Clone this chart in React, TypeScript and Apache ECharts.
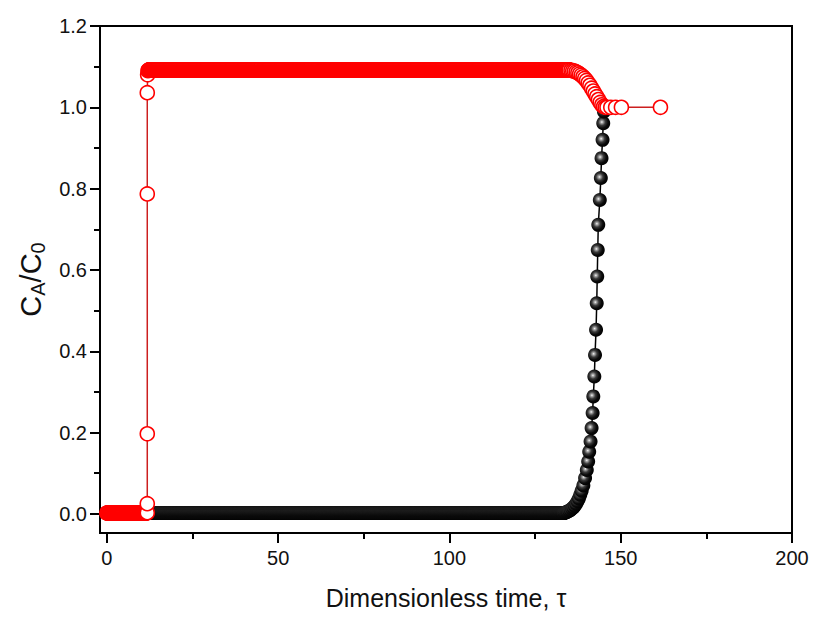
import React, { useEffect, useRef } from "react";
import * as echarts from "echarts";

// ---- data ----
// Solver output interval on the flat stretches (tau units)
const PLATEAU_STEP = 0.1;

// Flat runs: [tauFrom, tauTo, C/C0]
const redRunLow = [0, 11.6, 0.002];
const redRunHigh = [12.2, 135, 1.092];
const blackRunLow = [12.0, 133.4, 0.002];

// Red (hollow circles): breakthrough jump at tau ~ 11.8
const redJump = [
  [11.8, 0.003], [11.8, 0.025], [11.8, 0.197], [11.8, 0.787],
  [11.8, 1.036], [11.9, 1.08], [12.0, 1.09],
];
// Red: descent from overshoot to 1.0
const redDescent = [
  [135.5, 1.091], [136, 1.09], [136.5, 1.089], [137, 1.087], [137.5, 1.085],
  [138, 1.082], [138.5, 1.079], [139, 1.075], [139.5, 1.071], [140, 1.066],
  [140.5, 1.06], [141, 1.054], [141.5, 1.047], [142, 1.04], [142.5, 1.033],
  [143, 1.026], [143.5, 1.019], [144, 1.012], [144.5, 1.006], [145, 1.002],
  [145.5, 1.0],
];
const redTail = [[146, 1.0], [147.1, 1.0], [148.5, 1.0], [150.2, 1.0], [161.6, 1.0]];

// Black (spheres): rise
const blackRise = [
  [133.6, 0.003], [133.8, 0.003], [134, 0.004], [134.3, 0.005], [134.6, 0.006],
  [135, 0.008], [135.4, 0.01], [135.8, 0.013], [136.2, 0.016], [136.6, 0.02],
  [137, 0.025], [137.4, 0.031], [137.8, 0.038], [138.2, 0.047], [138.6, 0.057],
  [139.1, 0.07], [139.6, 0.088], [140.1, 0.108], [140.5, 0.129],
  [140.8, 0.153], [141.2, 0.178], [141.5, 0.211], [141.8, 0.248], [142.0, 0.289],
  [142.3, 0.338], [142.5, 0.391], [142.8, 0.453], [143.0, 0.518], [143.15, 0.584],
  [143.3, 0.649], [143.45, 0.711], [143.9, 0.772], [144.2, 0.826], [144.4, 0.875],
  [144.7, 0.92], [144.9, 0.961], [145.1, 0.99], [145.3, 1.0],
];

const xMajor = [0, 50, 100, 150, 200];
const xMinor = [25, 75, 125, 175];
const yMajor = [0, 0.2, 0.4, 0.6, 0.8, 1.0, 1.2];
const yMinor = [0.1, 0.3, 0.5, 0.7, 0.9, 1.1];

function run(r: number[], step: number) {
  const [from, to, level] = r;
  const n = Math.round((to - from) / step);
  const out: number[][] = [];
  for (let i = 0; i <= n; i++) out.push([+(from + i * step).toFixed(3), level]);
  return out;
}

const FONT = "'Liberation Sans', Arial, sans-serif";

export default function App() {
  const ref = useRef<HTMLDivElement>(null);
  useEffect(() => {
    document.body.style.margin = "0";
    const chart = echarts.init(ref.current!, null, { renderer: "svg" });
    const redData = [
      ...run(redRunLow, PLATEAU_STEP),
      ...redJump,
      ...run(redRunHigh, PLATEAU_STEP),
      ...redDescent,
      ...redTail,
    ];
    const blackData = [...run(blackRunLow, PLATEAU_STEP), ...blackRise];

    const axisCommon = { splitLine: { show: false } };
    chart.setOption({
      animation: false,
      backgroundColor: "#fff",
      grid: {
        left: 100, right: 22, top: 26, bottom: 84,
        show: true, borderColor: "#000", borderWidth: 2,
      },
      xAxis: [
        {
          type: "value", min: -2, max: 200, position: "bottom",
          ...axisCommon,
          axisLine: { show: true, onZero: false, lineStyle: { color: "#000", width: 2 } },
          axisTick: { show: true, length: 10, customValues: xMajor, lineStyle: { color: "#000", width: 2 } },
          axisLabel: { customValues: xMajor, fontSize: 20, color: "#111", margin: 15, fontFamily: FONT },
          name: "Dimensionless time, τ",
          nameLocation: "middle",
          nameGap: 52,
          nameTextStyle: { fontSize: 25, color: "#111", fontFamily: FONT },
        },
        {
          type: "value", min: -2, max: 200, position: "bottom",
          ...axisCommon,
          axisLine: { show: false, onZero: false },
          axisTick: { show: true, length: 6, customValues: xMinor, lineStyle: { color: "#000", width: 2 } },
          axisLabel: { show: false },
        },
      ],
      yAxis: [
        {
          type: "value", min: -0.047, max: 1.2, position: "left",
          ...axisCommon,
          axisLine: { show: true, onZero: false, lineStyle: { color: "#000", width: 2 } },
          axisTick: { show: true, length: 10, customValues: yMajor, lineStyle: { color: "#000", width: 2 } },
          axisLabel: {
            customValues: yMajor, fontSize: 20, color: "#111", margin: 13, fontFamily: FONT,
            formatter: (v: number) => v.toFixed(1),
          },
          name: "{m|C}{s|A}{m|/C}{s|0}",
          nameLocation: "middle",
          nameGap: 50,
          nameTextStyle: {
            color: "#111",
            rich: {
              m: { fontSize: 29, fontFamily: FONT, color: "#111" },
              s: { fontSize: 20, fontFamily: FONT, color: "#111", padding: [15, 0, 0, 0] },
            },
          },
        },
        {
          type: "value", min: -0.047, max: 1.2, position: "left",
          ...axisCommon,
          axisLine: { show: false, onZero: false },
          axisTick: { show: true, length: 6, customValues: yMinor, lineStyle: { color: "#000", width: 2 } },
          axisLabel: { show: false },
        },
      ],
      series: [
        {
          type: "line",
          data: blackData,
          xAxisIndex: 0, yAxisIndex: 0,
          symbol: "circle",
          symbolSize: 14,
          showSymbol: true,
          showAllSymbol: true,
          lineStyle: { color: "#000", width: 1.5 },
          itemStyle: {
            color: {
              type: "radial", x: 0.4, y: 0.42, r: 0.62,
              colorStops: [
                { offset: 0, color: "#ffffff" },
                { offset: 0.12, color: "#b0b0b0" },
                { offset: 0.4, color: "#3a3a3a" },
                { offset: 0.7, color: "#0a0a0a" },
                { offset: 1, color: "#000" },
              ],
            },
            borderWidth: 0,
          },
          z: 2,
        },
        {
          type: "line",
          data: redData,
          xAxisIndex: 0, yAxisIndex: 0,
          symbol: "circle",
          symbolSize: 14,
          showSymbol: true,
          showAllSymbol: true,
          lineStyle: { color: "#cc1f1f", width: 1.5 },
          itemStyle: { color: "#fff", borderColor: "#f00", borderWidth: 1.6 },
          z: 3,
        },
      ],
    });
    return () => chart.dispose();
  }, []);
  return <div ref={ref} style={{ width: 814, height: 617 }} />;
}
